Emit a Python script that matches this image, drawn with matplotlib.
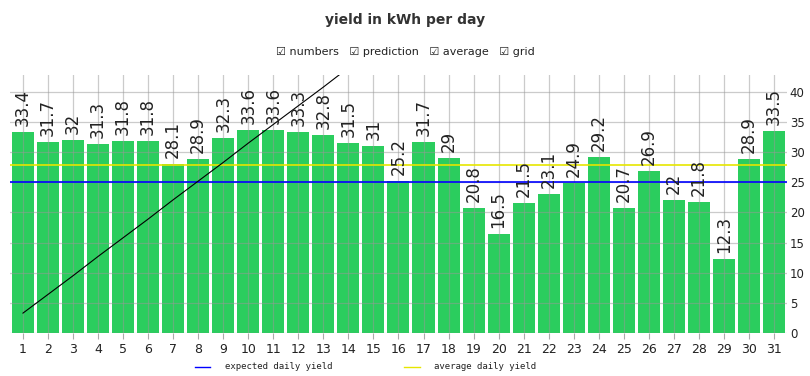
import matplotlib
matplotlib.use("Agg")
import matplotlib.pyplot as plt
from matplotlib.lines import Line2D

days = list(range(1, 32))
yields = [33.4, 31.7, 32, 31.3, 31.8, 31.8, 28.1, 28.9, 32.3, 33.6, 33.6,
          33.3, 32.8, 31.5, 31, 25.2, 31.7, 29, 20.8, 16.5, 21.5, 23.1,
          24.9, 29.2, 20.7, 26.9, 22, 21.8, 12.3, 28.9, 33.5]
labels = ["33.4", "31.7", "32", "31.3", "31.8", "31.8", "28.1", "28.9",
          "32.3", "33.6", "33.6", "33.3", "32.8", "31.5", "31", "25.2",
          "31.7", "29", "20.8", "16.5", "21.5", "23.1", "24.9", "29.2",
          "20.7", "26.9", "22", "21.8", "12.3", "28.9", "33.5"]
expected = 25
pred_days = list(range(1, 15))
pred_vals = [3.3, 6.4, 9.5, 12.7, 15.8, 18.9, 22.1, 25.2, 28.3, 31.5,
             34.6, 37.7, 40.8, 44.0]
average = sum(yields) / len(yields)

fig = plt.figure(figsize=(8.1, 3.76), dpi=100)
ax = fig.add_axes([0.0123, 0.1144, 0.9593, 0.6861])

ax.bar(days, yields, width=0.88, color="#2bcd5e", zorder=1)
ax.grid(True, color="#999999", alpha=0.5, linewidth=0.9, zorder=2)
ax.set_axisbelow(False)
ax.axhline(average, color="#e6e600", linewidth=1.2, zorder=3)
ax.axhline(expected, color="#0000ff", linewidth=1.2, zorder=3)
ax.plot(pred_days, pred_vals, color="black", linewidth=0.8, zorder=4)

for d, v, s in zip(days, yields, labels):
    ax.text(d, v + 1.0, s, rotation=90, ha="center", va="bottom",
            fontsize=12, color="#222222", zorder=5)

ax.set_xlim(0.48, 31.52)
ax.set_ylim(0, 42.8)
ax.set_xticks(days)
ax.set_yticks(range(0, 41, 5))
ax.yaxis.tick_right()
ax.tick_params(axis="x", labelsize=9, colors="#222222", length=4,
               color="#aaaaaa", pad=3)
ax.tick_params(axis="y", labelsize=8.5, colors="#222222", length=0, pad=2)
for sp in ax.spines.values():
    sp.set_visible(False)

fig.text(0.5, 0.947, "yield in kWh per day", ha="center", va="center",
         fontsize=10, fontweight="bold", color="#333333")
fig.text(0.5, 0.862,
         "\u2611 numbers   \u2611 prediction   \u2611 average   \u2611 grid",
         ha="center", va="center", fontsize=8, color="#222222")

fig.add_artist(Line2D([195 / 810, 210 / 810], [0.024, 0.024],
                      color="#0000ff", linewidth=1))
fig.text(225 / 810, 0.024, "expected daily yield", ha="left", va="center",
         fontsize=6.5, family="DejaVu Sans Mono", color="#222222")
fig.add_artist(Line2D([404 / 810, 420 / 810], [0.024, 0.024],
                      color="#e6e600", linewidth=1))
fig.text(434 / 810, 0.024, "average daily yield", ha="left", va="center",
         fontsize=6.5, family="DejaVu Sans Mono", color="#222222")

fig.savefig("out.png", dpi=100)
